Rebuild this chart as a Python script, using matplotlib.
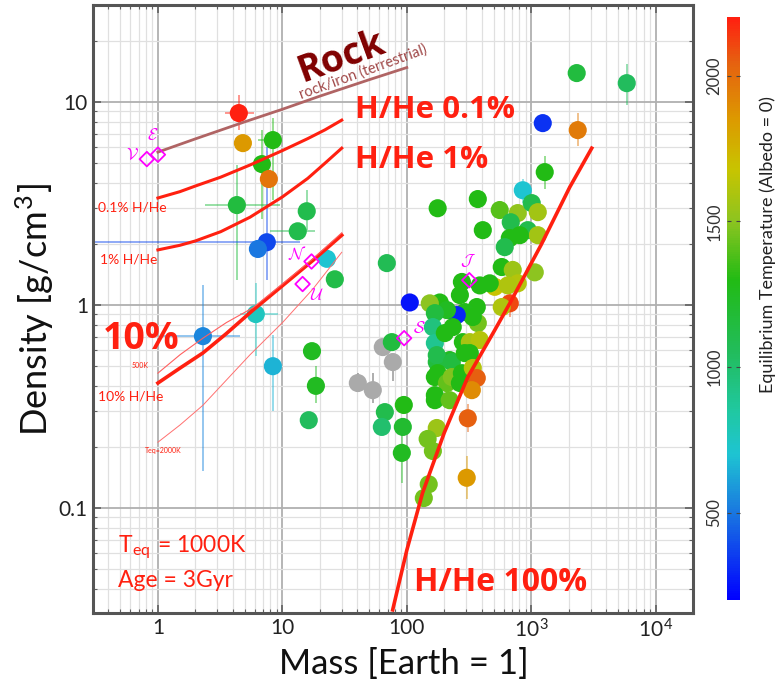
"""
Mass-density diagram of exoplanets with interior-model curves
"""
import numpy as np
import matplotlib
matplotlib.use("Agg")
import matplotlib.pyplot as plt
from matplotlib.colors import LinearSegmentedColormap, Normalize
from matplotlib.ticker import FixedLocator, FixedFormatter, NullFormatter, LogLocator

# planets with a known equilibrium temperature
mass = [4.47, 4.82, 8.39, 6.85, 7.79, 4.31, 7.5, 6.36, 15.7, 13.3, 22.8, 26.4,
        2.3, 6.12, 8.39, 17.3, 18.6, 16.3,
        66.6, 63, 94.6, 92.9, 91.2, 75.8, 69.1, 105.7, 177, 372, 408, 855,
        1283, 1237, 2362, 2318, 5850,
        558, 779, 1009, 1128, 684, 937, 1128, 672, 612, 809, 579, 710, 1067,
        779, 509, 648, 672, 579, 464, 386, 277, 267, 365, 292, 372, 339, 252,
        234, 184, 153, 210, 168, 162, 168, 202, 282, 321, 386, 321, 221, 174,
        174, 230, 292, 177, 168, 210, 230, 277, 267, 339, 365, 333, 168, 168,
        221, 309, 174, 147, 162, 303, 150, 137]
density = [8.83, 6.28, 6.5, 4.95, 4.18, 3.11, 2.04, 1.89, 2.9, 2.31, 1.69, 1.34,
           0.703, 0.903, 0.5, 0.593, 0.4, 0.271,
           0.297, 0.251, 0.322, 0.251, 0.187, 0.657, 1.61, 1.03, 3.0, 3.33, 2.34, 3.68,
           4.52, 7.88, 7.28, 13.9, 12.4,
           2.94, 2.84, 3.18, 2.87, 2.56, 2.34, 2.21, 2.14, 1.93, 2.21, 1.54, 1.49, 1.45,
           1.28, 1.23, 1.25, 1.02, 0.978, 1.28, 1.25, 1.30, 1.12, 0.978, 0.924, 0.815, 0.873, 0.893,
           0.779, 1.03, 1.02, 0.945, 0.913, 0.779, 0.65, 0.728, 0.657, 0.657, 0.673, 0.58, 0.536, 0.524,
           0.567, 0.524, 0.58, 0.462, 0.442, 0.413, 0.442, 0.462, 0.413, 0.49, 0.437, 0.381, 0.36, 0.34,
           0.34, 0.277, 0.248, 0.219, 0.191, 0.141, 0.131, 0.112]
teq = [2200, 1850, 1300, 1300, 1980, 1150, 380, 500, 1100, 1100, 700, 1120,
       540, 760, 660, 1250, 1250, 1050,
       1100, 1000, 1300, 1200, 1250, 1150, 1080, 250, 1300, 1300, 1300, 700,
       1300, 330, 1950, 1150, 1050,
       1400, 1520, 1100, 1560, 1100, 1100, 1560, 1300, 1100, 1300, 1300, 1550, 1500,
       1620, 1680, 1600, 2100, 1600, 1300, 1300, 1300, 1300, 1300, 1280, 1450, 1300, 300,
       1300, 1300, 1500, 1250, 1150, 950, 900, 1300, 1300, 1580, 1620, 1300, 1250, 1150,
       1100, 1150, 1300, 1300, 1300, 1420, 1480, 1300, 1300, 1620, 2050, 1900, 1300, 1300,
       1420, 2050, 1550, 1450, 1450, 1850, 1450, 1450]

# planets without a temperature (grey)
gray_mass = [40.4, 53.3, 64.1, 77.2]
gray_density = [0.413, 0.381, 0.621, 0.524]
gray_dens_lo = [0.04, 0.05, 0.0, 0.1]
gray_dens_hi = [0.05, 0.08, 0.0, 0.0]

# error bars: index into the lists above, then -/+ in mass and density
err_index = [0, 2, 3, 5, 6, 8, 9, 12, 13, 14, 16, 22, 29, 30, 32, 34, 51, 91, 95]
err_mass_lo = [1.0, 2.0, 0.0, 1.9, 7.2, 0.0, 5.4, 1.26, 1.57, 0.0, 0.0, 0, 0, 0, 0, 0, 0, 0, 15]
err_mass_hi = [1.5, 1.5, 0.0, 5.2, 6.3, 0.0, 4.9, 2.25, 3.1, 0.0, 0.0, 0, 0, 0, 0, 0, 0, 0, 20]
err_dens_lo = [1.56, 3.2, 2.3, 1.78, 0.71, 0.56, 0.0, 0.55, 0.34, 0.2, 0.07, 0.054, 0.5, 0.8, 1.2, 2.7, 0.15, 0.04, 0.03]
err_dens_hi = [2.0, 1.85, 2.3, 1.78, 3.96, 0.78, 0.0, 0.55, 0.38, 0.21, 0.1, 0.05, 0.5, 0.9, 1.6, 3.0, 0.2, 0.05, 0.04]

# solar-system planets
ss_names = [r"$\mathcal{V}$", r"$\mathcal{E}$", r"$\mathcal{U}$", r"$\mathcal{N}$",
            r"$\mathcal{S}$", r"$\mathcal{J}$"]
ss_mass = [0.815, 1.0, 14.54, 17.15, 95.16, 317.8]
ss_density = [5.24, 5.51, 1.27, 1.64, 0.687, 1.326]

# model curves
rock_mass = [1, 2, 5, 10, 20, 50, 100]
rock_density = [5.67, 6.59, 8.0, 9.22, 10.7, 12.9, 14.8]
hhe01_mass = [1, 1.5, 2, 3.2, 5.5, 10, 16, 22, 30]
hhe01_density = [3.37, 3.62, 3.86, 4.27, 4.9, 5.77, 6.61, 7.3, 8.15]
hhe1_mass = [1, 1.5, 2, 3.2, 5.5, 10, 16, 22, 30]
hhe1_density = [1.87, 1.97, 2.07, 2.3, 2.71, 3.41, 4.21, 5.0, 5.93]
hhe10_mass = [1, 1.51, 2.3, 3.55, 5.8, 10, 17.6, 30]
hhe10_density = [0.413, 0.49, 0.581, 0.724, 0.944, 1.245, 1.66, 2.21]
hhe10_500k_density = [0.462, 0.57, 0.687, 0.82, 0.97, 1.27, 1.69, 2.27]
hhe10_2000k_mass = [1, 1.51, 2.3, 3.55, 5.48, 10.1, 17.6, 30]
hhe10_2000k_density = [0.211, 0.257, 0.321, 0.427, 0.568, 0.824, 1.20, 1.82]
hhe100_mass = [77, 100, 134, 200, 309, 509, 672, 1200, 2038, 3062]
hhe100_density = [0.0315, 0.062, 0.119, 0.235, 0.442, 0.753, 1.02, 1.98, 3.81, 5.93]

teq_min, teq_max = 200, 2200
cmap_stops = [200, 500, 700, 850, 1050, 1300, 1500, 1680, 1850, 2050, 2200]
cmap_colors = ["#0000ff", "#1a78e0", "#1ec4d2", "#20c8a0", "#22bc5c", "#22bb14",
               "#8cc420", "#c8c400", "#dc9a00", "#e66010", "#ff2010"]

red = "#ff2010"
magenta = "#ff00ff"

plt.rcParams["font.family"] = ["Lato", "DejaVu Sans"]
plt.rcParams["mathtext.fontset"] = "cm"

cmap = LinearSegmentedColormap.from_list(
    "teq", [((s - teq_min) / (teq_max - teq_min), c) for s, c in zip(cmap_stops, cmap_colors)])
norm = Normalize(teq_min, teq_max)

fig = plt.figure(figsize=(7.8, 6.93), dpi=100)
ax = fig.add_axes([0.119, 0.1154, 0.769, 0.877])
ax.set_xscale("log")
ax.set_yscale("log")
ax.set_xlim(0.3, 19800)
ax.set_ylim(0.0304, 30)

ax.grid(which="major", color="#b0b0b0", lw=1.3, zorder=0)
ax.grid(which="minor", color="#e0e0e0", lw=0.9, zorder=0)
ax.set_axisbelow(True)

# error bars
for k, i in enumerate(err_index):
    c = cmap(norm(teq[i]))
    ax.errorbar(mass[i], density[i],
                xerr=[[err_mass_lo[k]], [err_mass_hi[k]]],
                yerr=[[err_dens_lo[k]], [err_dens_hi[k]]],
                fmt="none", ecolor=c, alpha=0.55, lw=1.2, zorder=2)
for m, d, lo, hi in zip(gray_mass, gray_density, gray_dens_lo, gray_dens_hi):
    ax.errorbar(m, d, yerr=[[lo], [hi]], fmt="none", ecolor="#888888", alpha=0.8, lw=1.2, zorder=2)

ax.scatter(gray_mass, gray_density, s=170, color="#aaaaaa", edgecolors="none", zorder=3)
ax.scatter(mass, density, c=teq, cmap=cmap, norm=norm, s=170, edgecolors="none", zorder=3)

# model curves
ax.plot(rock_mass, rock_density, color="#b06464", lw=2.0, zorder=4)
ax.plot(hhe01_mass, hhe01_density, color=red, lw=2.2, zorder=4)
ax.plot(hhe1_mass, hhe1_density, color=red, lw=2.2, zorder=4)
ax.plot(hhe10_mass, hhe10_density, color=red, lw=2.6, zorder=4)
ax.plot(hhe10_mass, hhe10_500k_density, color="#ff6060", lw=0.8, zorder=4)
ax.plot(hhe10_2000k_mass, hhe10_2000k_density, color="#ff7070", lw=0.7, zorder=4)
ax.plot(hhe100_mass, hhe100_density, color=red, lw=2.6, zorder=4)

# solar-system reference planets
ax.scatter(ss_mass, ss_density, marker="D", s=55, facecolors="none",
           edgecolors=magenta, linewidths=1.3, zorder=5)
ss_offsets = [(-10, 3), (-4, 14), (10, -8), (-10, 6), (11, 7), (-1, 14)]
for name, m, d, off in zip(ss_names, ss_mass, ss_density, ss_offsets):
    ax.annotate(name, (m, d), xytext=off, textcoords="offset points",
                color=magenta, fontsize=12, ha="center", va="center", zorder=5)

# annotations
bold = dict(color=red, fontweight="bold", family=["Open Sans", "DejaVu Sans"])
ax.text(0.415, 0.914, "Rock", transform=ax.transAxes, fontsize=27, fontweight="bold",
        color="#800000", rotation=20, ha="center", va="center", family=["Open Sans", "DejaVu Sans"])
ax.text(0.45, 0.891, "rock/iron (terrestrial)", transform=ax.transAxes, fontsize=10.5,
        color="#a04848", rotation=20, ha="center", va="center")
ax.text(0.437, 0.827, "H/He 0.1%", transform=ax.transAxes, fontsize=22.5, ha="left", va="center", **bold)
ax.text(0.437, 0.745, "H/He 1%", transform=ax.transAxes, fontsize=22.5, ha="left", va="center", **bold)
ax.text(0.016, 0.451, "10%", transform=ax.transAxes, fontsize=27, ha="left", va="center", **bold)
ax.text(0.535, 0.05, "H/He 100%", transform=ax.transAxes, fontsize=23, ha="left", va="center", **bold)

ax.text(0.123, 0.668, "0.1% H/He", transform=ax.transAxes, fontsize=10, color=red, ha="right", va="center")
ax.text(0.107, 0.581, "1% H/He", transform=ax.transAxes, fontsize=10, color=red, ha="right", va="center")
ax.text(0.093, 0.407, "500K", transform=ax.transAxes, fontsize=5, color=red, ha="right", va="center")
ax.text(0.117, 0.357, "10% H/He", transform=ax.transAxes, fontsize=10, color=red, ha="right", va="center")
ax.text(0.148, 0.268, "Teq=2000K", transform=ax.transAxes, fontsize=5, color=red, ha="right", va="center")
ax.text(0.042, 0.107, r"T$_{\mathregular{eq}}$ = 1000K", transform=ax.transAxes,
        fontsize=16.5, color=red, ha="left", va="center")
ax.text(0.042, 0.053, "Age = 3Gyr", transform=ax.transAxes, fontsize=16.5, color=red, ha="left", va="center")

# axes styling
ax.xaxis.set_major_locator(FixedLocator([1, 10, 100, 1000, 10000]))
ax.xaxis.set_major_formatter(FixedFormatter(["1", "10", "100", r"10$^{\mathregular{3}}$", r"10$^{\mathregular{4}}$"]))
ax.yaxis.set_major_locator(FixedLocator([0.1, 1, 10]))
ax.yaxis.set_major_formatter(FixedFormatter(["0.1", "1", "10"]))
ax.xaxis.set_minor_locator(LogLocator(base=10, subs=np.arange(2, 10)))
ax.yaxis.set_minor_locator(LogLocator(base=10, subs=np.arange(2, 10)))
ax.xaxis.set_minor_formatter(NullFormatter())
ax.yaxis.set_minor_formatter(NullFormatter())
ax.tick_params(which="both", direction="in", top=True, right=True, colors="#606060",
               labelcolor="#222222", labelsize=15)
ax.tick_params(which="major", length=6, width=1.2)
ax.tick_params(which="minor", length=3, width=0.8)
for sp in ax.spines.values():
    sp.set_color("#555555")
    sp.set_linewidth(2.2)

ax.set_xlabel("Mass [Earth = 1]", fontsize=25, color="#111111", labelpad=4)
ax.xaxis.set_label_coords(0.518, -0.058)
ax.set_ylabel(r"Density [g/cm$^{\mathregular{3}}$]", fontsize=26, color="#111111", labelpad=2)

# colorbar
cax = fig.add_axes([0.932, 0.134, 0.0167, 0.841])
sm = plt.cm.ScalarMappable(norm=norm, cmap=cmap)
cb = fig.colorbar(sm, cax=cax)
cb.outline.set_visible(False)
cb.set_ticks([500, 1000, 1500, 2000])
cb.ax.tick_params(direction="in", left=True, right=True, labelleft=True, labelright=False,
                  length=3, color="#444444", labelsize=12, labelcolor="#333333")
for lbl in cb.ax.get_yticklabels():
    lbl.set_rotation(90)
    lbl.set_va("center")
cb.set_label("Equilibrium Temperature (Albedo = 0)", fontsize=13, color="#222222")
cb.ax.yaxis.set_label_position("right")
cb.ax.yaxis.set_label_coords(2.5, 0.61)

fig.savefig("out.png", dpi=100)
